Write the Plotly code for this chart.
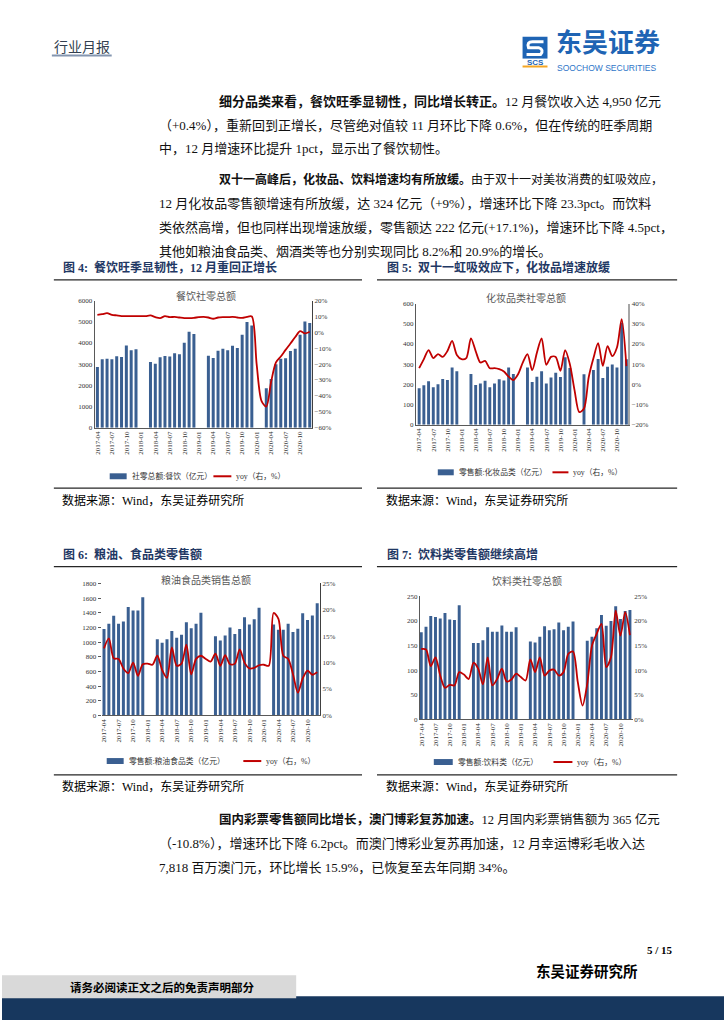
import plotly.graph_objects as go

W, H = 724, 1024

def px(x):
    return x / W

def py(y):
    return 1 - y / H

months = [
    "2017-04", "2017-05", "2017-06", "2017-07", "2017-08", "2017-09", "2017-10", "2017-11", "2017-12",
    "2018-01", "2018-02", "2018-03", "2018-04", "2018-05", "2018-06", "2018-07", "2018-08", "2018-09", "2018-10", "2018-11", "2018-12",
    "2019-01", "2019-02", "2019-03", "2019-04", "2019-05", "2019-06", "2019-07", "2019-08", "2019-09", "2019-10", "2019-11", "2019-12",
    "2020-01", "2020-02", "2020-03", "2020-04", "2020-05", "2020-06", "2020-07", "2020-08", "2020-09", "2020-10", "2020-11", "2020-12",
]
tick_months = ["2017-04", "2017-07", "2017-10", "2018-01", "2018-04", "2018-07", "2018-10",
               "2019-01", "2019-04", "2019-07", "2019-10", "2020-01", "2020-04", "2020-07", "2020-10"]

# Fig 4: catering retail sales (100m yuan) and yoy (%)
catering_sales = [2870, 3230, 3260, 3230, 3370, 3340, 3880, 3660, 3700,
                  None, None, 3100, 3020, 3330, 3390, 3360, 3520, 3470, 4010, 4530, 4420,
                  None, None, 3400, 3290, 3630, 3730, 3660, 3870, 3760, 4390, 4990, 4830,
                  None, None, 1860, 2300, 3000, 3250, 3280, 3620, 3730, 4390, 5010, 4950]
catering_yoy = [11.1, 11.5, 12.1, 11.1, 10.7, 10.3, 10.3, 10.3, 10.3,
                10.3, 10.3, 10.7, 9.6, 9.0, 10.3, 9.6, 9.8, 9.4, 9.0, 9.0, 9.2,
                9.6, 9.8, 9.4, 8.6, 9.4, 9.6, 9.6, 9.8, 9.4, 9.2, 9.8, 10.0,
                -20.0, -43.1, -46.8, -31.1, -18.9, -15.2, -11.0, -7.0, -2.9, 0.8, -0.6, 0.4]

# Fig 5: cosmetics
cosmetics_sales = [180, 196, 215, 186, 200, 226, 221, 284, 265,
                   None, None, 251, 197, 204, 218, 186, 204, 225, 219, 283, 251,
                   None, None, 284, 212, 237, 265, 204, 234, 258, 236, 334, 281,
                   None, None, 250, None, 271, 325, 232, 287, 298, 284, 505, 324]
cosmetics_yoy = [8.0, 12.5, 17.0, 13.0, 15.0, 13.6, 16.5, 21.5, 14.6,
                 12.5, 13.0, 22.8, 16.5, 10.8, 11.6, 8.0, 8.0, 7.5, 6.4, 3.8, 2.1,
                 5.0, 10.8, 15.0, 7.0, 15.7, 22.8, 9.7, 13.6, 13.6, 6.7, 17.0, 10.0,
                 -3.0, -13.8, -12.0, 3.5, 12.9, 20.4, 9.2, 18.9, 14.0, 18.3, 32.3, 9.0]

# Fig 6: grain, oil & food
food_sales = [1180, 1250, 1360, 1250, 1280, 1480, 1430, 1430, 1610,
              None, None, 1040, 990, 1040, 1150, 1060, 1100, 1270, 1190, 1250, 1400,
              None, None, 1080, 1020, 1090, 1200, 1110, 1180, 1340, 1240, 1310, 1470,
              None, None, 1240, 1167, 1167, 1250, 1136, 1181, 1394, 1303, 1362, 1529]
food_yoy = [12.7, 14.6, 10.8, 10.7, 8.9, 8.0, 10.0, 7.5, 9.7,
            9.8, 9.6, 11.3, 8.6, 7.1, 12.9, 9.4, 9.8, 13.4, 7.8, 10.7, 11.3,
            10.7, 10.2, 11.7, 9.4, 11.4, 9.7, 9.8, 12.5, 10.0, 8.9, 9.0, 9.5,
            9.6, 9.4, 19.4, 18.3, 11.3, 10.7, 7.8, 4.3, 7.0, 8.5, 7.7, 8.2]

# Fig 7: beverages
drink_sales = [177, 188, 210, 208, 205, 216, 203, 202, 232,
               None, None, 155, 155, 161, 187, 178, 178, 191, 178, 178, 187,
               None, None, 158, 156, 168, 189, 181, 183, 197, 181, 188, 199,
               None, None, 160, 168, 185, 212, 190, 200, 230, 204, 220, 222]
drink_yoy = [14.3, 14.2, 10.8, 12.6, 8.9, 6.4, 7.0, 6.9, 9.6,
             9.1, 8.2, 11.5, 10.3, 7.1, 12.6, 6.9, 8.2, 10.3, 7.7, 8.1, 9.3,
             8.6, 7.9, 12.2, 9.6, 12.6, 8.9, 9.9, 10.1, 8.9, 9.6, 13.3, 13.8,
             7.6, 2.8, 7.2, 15.0, 17.4, 19.4, 10.6, 12.6, 22.1, 17.0, 21.8, 17.1]

BAR = "#3A5F91"
RED = "#C00000"
NAVY = "#1F3864"
CJK = "Liberation Serif, Noto Sans CJK SC"
TICKF = dict(family="Liberation Serif", size=7, color="#333333")

charts = [
    dict(bars=catering_sales, yoy=catering_yoy, box=(93, 311, 299, 427), xr=[-0.55, 44.5],
         yl=[0, 6000], dl=1000, yr=[-60, 20], dr=10, title="餐饮社零总额", tpos=(205, 294),
         bname="社零总额:餐饮（亿元）", ly=476, bsw=(108, 125), lsw=(212, 230),
         lline=True, rline=True, rcol="#404040", rw=1, lticks=""),
    dict(bars=cosmetics_sales, yoy=cosmetics_yoy, box=(415, 628, 302, 424), xr=[-0.7, 44.4],
         yl=[0, 600], dl=100, yr=[-20, 40], dr=10, title="化妆品类社零总额", tpos=(525, 296),
         bname="零售额:化妆品类（亿元）", ly=472, bsw=(437, 453), lsw=(552, 568),
         lline=True, rline=True, rcol="#A6A6A6", rw=2, lticks=""),
    dict(bars=food_sales, yoy=food_yoy, box=(100, 319, 584, 717), xr=[-0.47, 44.6],
         yl=[0, 1800], dl=200, yr=[0, 25], dr=5, title="粮油食品类销售总额", tpos=(205, 581),
         bname="零售额:粮油食品类（亿元）", ly=763, bsw=(105, 122), lsw=(242, 260),
         lline=False, rline=True, rcol="#404040", rw=1, lticks="outside"),
    dict(bars=drink_sales, yoy=drink_yoy, box=(419, 633, 597, 721), xr=[-0.3, 44.7],
         yl=[0, 250], dl=50, yr=[0, 25], dr=5, title="饮料类社零总额", tpos=(526, 582),
         bname="零售额:饮料类（亿元）", ly=764, bsw=(433, 452), lsw=(553, 572),
         lline=True, rline=False, rcol="#404040", rw=1, lticks=""),
]

fig = go.Figure()
layout = {}
annotations = []
shapes = []

def ann(x, y, text, size=12, color="#000000", family=CJK, xanchor="left", yanchor="middle", **kw):
    annotations.append(dict(x=px(x), y=py(y), xref="paper", yref="paper", text=text,
                            showarrow=False, xanchor=xanchor, yanchor=yanchor,
                            font=dict(size=size, color=color, family=family), **kw))

def hline(x0, x1, y, color="#000000", width=1):
    shapes.append(dict(type="line", xref="paper", yref="paper", x0=px(x0), x1=px(x1),
                       y0=py(y), y1=py(y), line=dict(color=color, width=width)))

def rect(x0, x1, y0, y1, color):
    shapes.append(dict(type="rect", xref="paper", yref="paper", x0=px(x0), x1=px(x1),
                       y0=py(y1), y1=py(y0), fillcolor=color, line=dict(width=0), layer="below"))

for i, c in enumerate(charts, start=1):
    xid = "x" if i == 1 else f"x{i}"
    ylid = "y" if i == 1 else f"y{2 * i - 1}"
    yrid = f"y{2 * i}"
    xkey = "xaxis" if i == 1 else f"xaxis{i}"
    ylkey = "yaxis" if i == 1 else f"yaxis{2 * i - 1}"
    yrkey = f"yaxis{2 * i}"
    x0, x1, y0, y1 = c["box"]

    fig.add_trace(go.Bar(x=months, y=c["bars"], xaxis=xid, yaxis=ylid, marker_color=BAR,
                         marker_line_width=0, width=0.62, name=c["bname"]))
    fig.add_trace(go.Scatter(x=months, y=c["yoy"], xaxis=xid, yaxis=yrid, mode="lines",
                             line=dict(color=RED, width=1.8, shape="spline", smoothing=0.8),
                             name="yoy（右，%）"))

    layout[xkey] = dict(domain=[px(x0), px(x1)], anchor=ylid, type="category",
                        categoryorder="array", categoryarray=months, range=c["xr"],
                        tickmode="array", tickvals=tick_months, ticktext=tick_months,
                        tickangle=-90, tickfont=TICKF, showline=True, linecolor="#595959",
                        linewidth=1, showgrid=False, zeroline=False, ticks="")
    layout[ylkey] = dict(domain=[py(y1), py(y0)], anchor=xid, range=c["yl"], dtick=c["dl"],
                         tickmode="linear", tick0=0, showgrid=False, zeroline=False,
                         showline=c["lline"], linecolor="#595959", linewidth=1,
                         ticks=c["lticks"], ticklen=3, tickcolor="#595959", tickfont=TICKF)
    layout[yrkey] = dict(overlaying=ylid, side="right", anchor=xid, range=c["yr"], dtick=c["dr"],
                         tickmode="linear", tick0=0, ticksuffix="%", showgrid=False,
                         zeroline=False, showline=c["rline"], linecolor=c["rcol"],
                         linewidth=c["rw"], tickfont=TICKF)

    # chart title
    ann(c["tpos"][0], c["tpos"][1], c["title"], size=10, color="#595959", xanchor="center")
    # legend
    bx0, bx1 = c["bsw"]
    rect(bx0, bx1, c["ly"] - 3, c["ly"] + 3, BAR)
    ann(bx1 + 3, c["ly"], c["bname"], size=7.8, color="#333333")
    lx0, lx1 = c["lsw"]
    hline(lx0, lx1, c["ly"], color=RED, width=2)
    ann(lx1 + 3, c["ly"], "yoy（右，%）", size=7.8, color="#333333")

# figure captions and rules
ann(59, 266, "<b>图 4:  餐饮旺季显韧性，12 月重回正增长</b>", size=12, color=NAVY)
ann(384, 266, "<b>图 5:  双十一虹吸效应下，化妆品增速放缓</b>", size=12, color=NAVY)
hline(52, 361, 278, color="#262626", width=1.2)
hline(376, 677, 278, color="#262626", width=1.2)
hline(52, 361, 488, color="#262626", width=1.2)
hline(376, 677, 488, color="#262626", width=1.2)
ann(58, 500, "数据来源：Wind，东吴证券研究所", size=12)
ann(383, 500, "数据来源：Wind，东吴证券研究所", size=12)

ann(59, 555, "<b>图 6:  粮油、食品类零售额</b>", size=12, color=NAVY)
ann(384, 555, "<b>图 7:  饮料类零售额继续高增</b>", size=12, color=NAVY)
hline(52, 361, 567, color="#262626", width=1.2)
hline(376, 677, 567, color="#262626", width=1.2)
hline(52, 361, 777, color="#262626", width=1.2)
hline(376, 677, 777, color="#262626", width=1.2)
ann(58, 789, "数据来源：Wind，东吴证券研究所", size=12)
ann(383, 789, "数据来源：Wind，东吴证券研究所", size=12)

# body text (x, y, text, font size)
body = [
    (216, 98, "<b>细分品类来看，餐饮旺季显韧性，同比增长转正。</b>12 月餐饮收入达 4,950 亿元", 13),
    (155, 122, "（+0.4%），重新回到正增长，尽管绝对值较 11 月环比下降 0.6%，但在传统的旺季周期", 13),
    (155, 146, "中，12 月增速环比提升 1pct，显示出了餐饮韧性。", 13),
    (216, 177, "<b>双十一高峰后，化妆品、饮料增速均有所放缓。</b>由于双十一对美妆消费的虹吸效应，", 12.0),
    (155, 201, "12 月化妆品零售额增速有所放缓，达 324 亿元（+9%），增速环比下降 23.3pct。而饮料", 13),
    (155, 225, "类依然高增，但也同样出现增速放缓，零售额达 222 亿元(+17.1%)，增速环比下降 4.5pct，", 13),
    (155, 249, "其他如粮油食品类、烟酒类等也分别实现同比 8.2%和 20.9%的增长。", 13),
    (216, 822, "<b>国内彩票零售额同比增长，澳门博彩复苏加速。</b>12 月国内彩票销售额为 365 亿元", 12.5),
    (155, 846, "（-10.8%），增速环比下降 6.2pct。而澳门博彩业复苏再加速，12 月幸运博彩毛收入达", 13),
    (155, 870, "7,818 百万澳门元，环比增长 15.9%，已恢复至去年同期 34%。", 13),
]
for x, y, t, s in body:
    ann(x, y, t, size=s, color="#111111")

# header
ann(50, 44, "行业月报", size=14, color="#333F50")
hline(50, 110, 52, color="#8496B0", width=2)
# logo
rect(522, 547, 33, 55, "#1E64B4")
shapes.append(dict(type="path", xref="paper", yref="paper",
                   path=f"M {px(543)},{py(38)} L {px(532)},{py(38)} Q {px(526)},{py(38)} {px(528)},{py(44)} "
                        f"L {px(538)},{py(44)} Q {px(544)},{py(46)} {px(540)},{py(51)} L {px(526)},{py(51)}",
                   line=dict(color="white", width=3)))
ann(534.5, 59, "<b>SCS</b>", size=8, color="#1E64B4", family="Liberation Sans", xanchor="center")
hline(522, 547, 63, color="#F5A623", width=2)
ann(554, 57, "<b>东吴证券</b>", size=26, color="#1E64B4", family="Noto Sans CJK SC", yanchor="bottom")
ann(555, 57, "SOOCHOW SECURITIES", size=8.5, color="#2E75C8", family="Liberation Sans", yanchor="top")

# footer
ann(645, 953, "<b>5 / 15</b>", size=11, family="Liberation Serif")
ann(640, 975, "<b>东吴证券研究所</b>", size=14.5, xanchor="right")
rect(0, 724, 1000, 1024, "#17375E")
rect(0, 295, 979, 1002, "#D9D9D9")
ann(160, 991, "<b>请务必阅读正文之后的免责声明部分</b>", size=11.5, xanchor="center")

fig.update_layout(**layout)
fig.update_layout(width=W, height=H, margin=dict(l=0, r=0, t=0, b=0),
                  paper_bgcolor="white", plot_bgcolor="white", showlegend=False,
                  annotations=annotations, shapes=shapes, bargap=0.35)

fig.write_html("out.html", config={"displayModeBar": False},
               post_script="document.body.style.margin='0px';")
